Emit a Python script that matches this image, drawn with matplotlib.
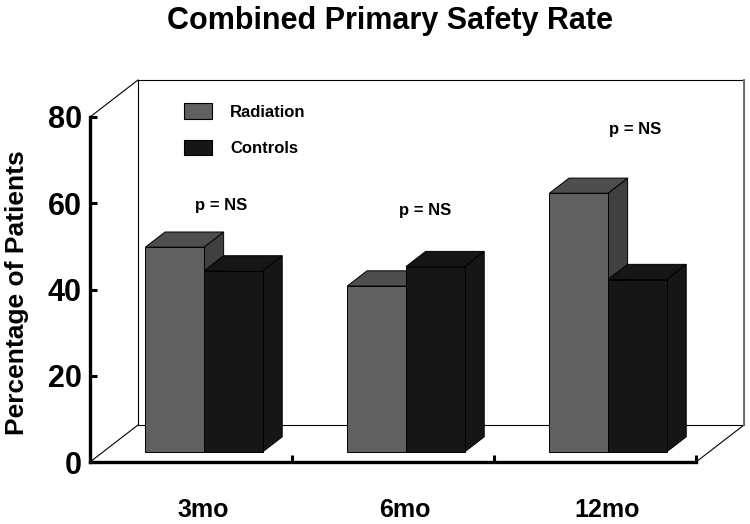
import numpy as np
import matplotlib
matplotlib.use("Agg")
from matplotlib import pyplot as plt
from matplotlib.patches import Polygon, Patch

plt.rcParams['font.family'] = ['Liberation Sans', 'DejaVu Sans']
plt.rcParams['font.weight'] = 'bold'

# Data
periods = ["3mo", "6mo", "12mo"]
radiation = [47.5, 38.5, 60.0]
controls = [42.0, 43.0, 40.0]
series_names = ["Radiation", "Controls"]
p_labels = ["p = NS", "p = NS", "p = NS"]
yticks = [0, 20, 40, 60, 80]

# 3D look: depth offset of the back wall in data units
DX = 0.2376
DY = 8.58
D_FRONT = 0.27   # bar front plane (fraction of depth)
D_BACK = 0.68    # bar back plane
BAR_W = 0.29

# face colours (front, top, side)
faces = {
    "Radiation": ("#606060", "#4e4e4e", "#404040"),
    "Controls": ("#161616", "#161616", "#161616"),
}

fig = plt.figure(figsize=(7.5, 5.24), dpi=100)
ax = fig.add_axes([90/750, 62/524, 606/750, 345/524])
ax.set_xlim(0, 3)
ax.set_ylim(0, 80)

# back wall and floor outlines
wall_kw = dict(color="black", lw=0.8, clip_on=False, zorder=1)
ax.plot([DX, DX, 3+DX, 3+DX], [DY, 80+DY, 80+DY, DY], **wall_kw)
ax.plot([DX, 3+DX], [DY, DY], **wall_kw)
ax.plot([0, DX], [80, 80+DY], **wall_kw)
ax.plot([0, DX], [0, DY], **wall_kw)
ax.plot([3, 3+DX], [0, DY], **wall_kw)
ax.plot([3+DX, 3+DX], [DY, 80+DY], color="#707070", lw=1.4, clip_on=False, zorder=1)


def draw_bar(x0, v, cols):
    fx, fy = D_FRONT*DX, D_FRONT*DY
    bx, by = D_BACK*DX, D_BACK*DY
    front = [(x0+fx, fy), (x0+BAR_W+fx, fy), (x0+BAR_W+fx, v+fy), (x0+fx, v+fy)]
    top = [(x0+fx, v+fy), (x0+BAR_W+fx, v+fy), (x0+BAR_W+bx, v+by), (x0+bx, v+by)]
    side = [(x0+BAR_W+fx, fy), (x0+BAR_W+bx, by), (x0+BAR_W+bx, v+by), (x0+BAR_W+fx, v+fy)]
    for pts, c in [(side, cols[2]), (top, cols[1]), (front, cols[0])]:
        ax.add_patch(Polygon(pts, closed=True, facecolor=c, edgecolor="black",
                             lw=0.7, clip_on=False, zorder=3))


for i in range(len(periods)):
    centre = i + 0.5
    draw_bar(centre - BAR_W, radiation[i], faces["Radiation"])
    draw_bar(centre, controls[i], faces["Controls"])

# p value labels
p_pos = [(0.65, 59.5), (1.66, 58.4), (2.70, 77.0)]
for (px, py), txt in zip(p_pos, p_labels):
    ax.text(px, py, txt, ha="center", va="center", fontsize=12, fontweight="bold")

# axes styling
for s in ["top", "right"]:
    ax.spines[s].set_visible(False)
ax.spines["left"].set_linewidth(2.4)
ax.spines["bottom"].set_linewidth(2.4)
ax.spines["left"].set_zorder(5)
ax.spines["bottom"].set_zorder(5)

ax.set_yticks(yticks)
ax.set_yticklabels([str(t) for t in yticks], fontsize=22, fontweight="bold")
ax.tick_params(axis="y", direction="in", length=5, width=2.2, pad=6)
ax.set_xticks([1, 2, 3])
ax.set_xticklabels([])
ax.tick_params(axis="x", direction="in", length=5, width=2.2)

for i, lab in enumerate(periods):
    ax.text(i + 0.56, -0.139, lab, transform=ax.get_xaxis_transform(),
            ha="center", va="center", fontsize=18, fontweight="bold")

ax.set_ylabel("Percentage of Patients", fontsize=19, fontweight="bold")
ax.yaxis.set_label_coords(-0.1007, 0.491)

fig.text(390/750, 1 - 29/524, "Combined Primary Safety Rate", ha="center",
         va="baseline", fontsize=22, fontweight="bold")

handles = [Patch(facecolor=faces[n][0], edgecolor="black", lw=0.8) for n in series_names]
ax.legend(handles, series_names, loc="upper left", bbox_to_anchor=(184/750, 1 - 103/524),
          bbox_transform=fig.transFigure, frameon=False, fontsize=12,
          handlelength=1.68, handleheight=1.08, handletextpad=1.1, labelspacing=1.2,
          borderpad=0, borderaxespad=0)

fig.savefig("out.png", dpi=100)
